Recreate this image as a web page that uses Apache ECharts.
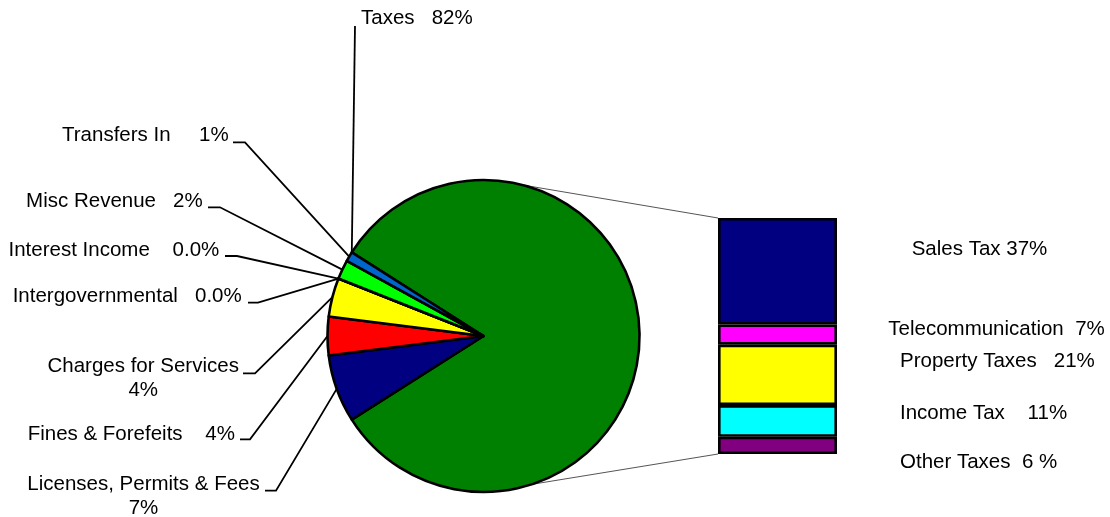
<!DOCTYPE html>
<html>
<head>
<meta charset="utf-8">
<script src="https://cdn.jsdelivr.net/npm/echarts@6/dist/echarts.min.js"></script>
<style>
  html, body { margin: 0; padding: 0; background: #fff; }
  #chart { width: 1110px; height: 517px; }
</style>
</head>
<body>
<div id="chart"></div>
<script>
// Revenue sources, percent of total, in clockwise order starting with Taxes
const revenueNames = ['Taxes', 'Licenses, Permits & Fees', 'Fines & Forefeits', 'Charges for Services',
  'Intergovernmental', 'Interest Income', 'Misc Revenue', 'Transfers In'];
const revenueValues = [82, 7, 4, 4, 0, 0, 2, 1];
const revenueColors = ['#008000', '#000080', '#FF0000', '#FFFF00', '#FFFFFF', '#FFFFFF', '#00FF00', '#0066CC'];
const revenueLabelFormats = ['{n}   {v}%', '{n}\n{v}%', '{n}    {v}%', '{n}\n{v}%',
  '{n}   {v}%', '{n}    {v}%', '{n}   {v}%', '{n}     {v}%'];

// Breakdown of Taxes, listed from the bottom of the bar to the top
const taxNames = ['Other Taxes', 'Income Tax', 'Property Taxes', 'Telecommunication', 'Sales Tax'];
const taxValues = [6, 11, 21, 7, 37];
const taxColors = ['#800080', '#00FFFF', '#FFFF00', '#FF00FF', '#000080'];
const taxLabelFormats = ['{n}  {v} %', '{n}    {v}%', '{n}   {v}%', '{n}  {v}%', '{n} {v}%'];

// ---- layout ----
const PIE = { cx: 483.5, cy: 336, r: 156 };
const BAR = { left: 718, top: 218, width: 119, height: 236 };
const CONNECTOR_ANGLES = [75.5, -72];   // where the connector lines leave the pie
const FONT = { fontFamily: "'Liberation Sans', Arial, sans-serif", fontSize: 20.5, color: '#000' };

// Text anchor of each pie label and the tail of its leader line (elbow, then end near the text)
const pieLabelPlacement = [
  { x: 361,   y: 18,    align: 'left',   tail: [[355, 26]] },
  { x: 143.5, y: 496,   align: 'center', tail: [[276, 490.7], [265, 490.7]] },
  { x: 235,   y: 434,   align: 'right',  tail: [[250, 439.3], [240, 439.3]] },
  { x: 143.2, y: 378.5, align: 'center', tail: [[255, 373.3], [243, 373.3]] },
  { x: 241.7, y: 296.5, align: 'right',  tail: [[258, 302.7], [248, 302.7]] },
  { x: 219.3, y: 250,   align: 'right',  tail: [[237, 256], [225, 256]] },
  { x: 202.7, y: 201,   align: 'right',  tail: [[220, 207.3], [208, 207.3]] },
  { x: 228.7, y: 135.5, align: 'right',  tail: [[245, 142.3], [233, 142.3]] }
];
const barLabelPlacement = [
  { x: 900, y: 462.5 }, { x: 900, y: 413 }, { x: 900, y: 361 }, { x: 888.3, y: 329 }, { x: 911.7, y: 249.5 }
];

const sum = arr => arr.reduce((a, b) => a + b, 0);
const revenueTotal = sum(revenueValues);
const taxTotal = sum(taxValues);
// Taxes slice is centred on the right-hand side
const pieStartAngle = revenueValues[0] / revenueTotal * 180;

function fmtValue(v) { return v === 0 ? '0.0' : String(v); }
function fmt(tpl, name, v) { return tpl.replace('{n}', name).replace('{v}', fmtValue(v)); }

// Angle (degrees, counter-clockwise from 3 o'clock) where a slice's leader line meets the rim
function sliceAnchorAngle(i) {
  if (i === 0) return pieStartAngle;
  const before = sum(revenueValues.slice(0, i));
  return pieStartAngle - (before + revenueValues[i] / 2) / revenueTotal * 360;
}
function rimPoint(deg) {
  const a = deg * Math.PI / 180;
  return [PIE.cx + PIE.r * Math.cos(a), PIE.cy - PIE.r * Math.sin(a)];
}

const chart = echarts.init(document.getElementById('chart'), null, { renderer: 'canvas' });

const pieSeries = {
  type: 'pie',
  center: [PIE.cx, PIE.cy],
  radius: PIE.r,
  startAngle: pieStartAngle,
  clockwise: true,
  avoidLabelOverlap: false,
  silent: true,
  z: 3,
  data: revenueNames.map((n, i) => ({ name: n, value: revenueValues[i], itemStyle: { color: revenueColors[i] } })),
  itemStyle: { borderColor: '#000', borderWidth: 2.6 },
  label: {
    show: true, position: 'outside', ...FONT, lineHeight: 24,
    formatter: p => fmt(revenueLabelFormats[p.dataIndex], p.name, p.value)
  },
  labelLine: { show: true, lineStyle: { color: '#000', width: 1.8 } },
  labelLayout: p => {
    const pl = pieLabelPlacement[p.dataIndex];
    return {
      x: pl.x, y: pl.y, align: pl.align, verticalAlign: 'middle',
      labelLinePoints: [rimPoint(sliceAnchorAngle(p.dataIndex)), ...pl.tail]
    };
  }
};

const barSeries = taxNames.map((n, i) => ({
  type: 'bar',
  name: n,
  stack: 'taxes',
  barWidth: '100%',
  silent: true,
  data: [taxValues[i]],
  itemStyle: { color: taxColors[i], borderColor: '#000', borderWidth: 2.6 },
  label: { show: true, position: 'right', ...FONT, formatter: () => fmt(taxLabelFormats[i], n, taxValues[i]) },
  labelLayout: () => ({ x: barLabelPlacement[i].x, y: barLabelPlacement[i].y, align: 'left', verticalAlign: 'middle' })
}));

chart.setOption({
  animation: false,
  backgroundColor: '#fff',
  grid: { left: BAR.left, top: BAR.top, width: BAR.width, height: BAR.height },
  xAxis: { type: 'category', data: [''], show: false },
  yAxis: { type: 'value', min: 0, max: taxTotal, show: false },
  series: [pieSeries, ...barSeries]
});

// Connector lines from the pie rim to the top and bottom corners of the bar
const barTopY = chart.convertToPixel({ gridIndex: 0 }, [0, taxTotal])[1];
const barBottomY = chart.convertToPixel({ gridIndex: 0 }, [0, 0])[1];
const pTop = rimPoint(CONNECTOR_ANGLES[0]);
const pBottom = rimPoint(CONNECTOR_ANGLES[1]);
chart.setOption({
  graphic: [
    { type: 'line', z: 1, silent: true, shape: { x1: pTop[0], y1: pTop[1], x2: BAR.left, y2: barTopY },
      style: { stroke: '#555', lineWidth: 1 } },
    { type: 'line', z: 1, silent: true, shape: { x1: pBottom[0], y1: pBottom[1], x2: BAR.left, y2: barBottomY },
      style: { stroke: '#555', lineWidth: 1 } }
  ]
});
</script>
</body>
</html>
